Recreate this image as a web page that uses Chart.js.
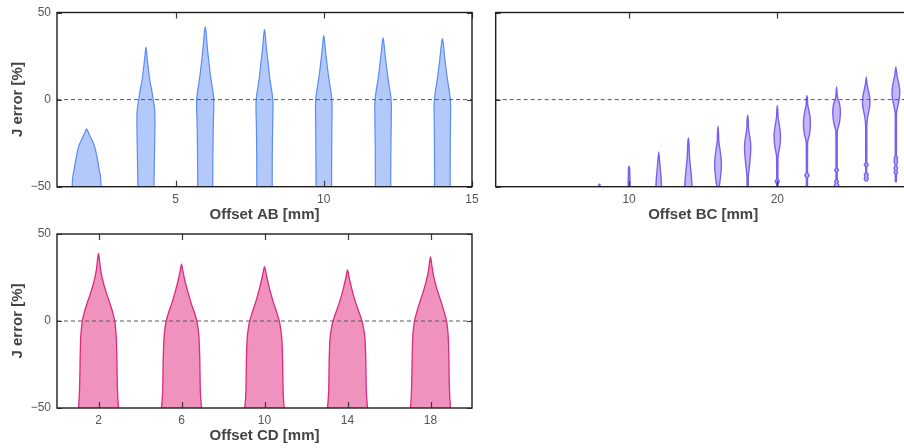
<!DOCTYPE html>
<html><head><meta charset="utf-8">
<script src="https://cdn.jsdelivr.net/npm/chart.js@4.4.1/dist/chart.umd.min.js"></script>
<style>
html,body{margin:0;padding:0;background:#fff;}
#wrap{position:relative;width:904px;height:448px;overflow:hidden;background:#fff;}
canvas{position:absolute;}
</style></head><body>
<div id="wrap">
<canvas id="cAB" width="480" height="224" style="left:0px;top:0px"></canvas>
<canvas id="cBC" width="440" height="224" style="left:480px;top:0px"></canvas>
<canvas id="cCD" width="480" height="224" style="left:0px;top:224px"></canvas>
</div>
<script>
// ---------- data ----------
const yRange = [-50, 50];
const yTicks = [-50, 0, 50];

// Offset AB
const abRange = [1, 15];
const abTicks = [5, 10, 15];
const abPositions = [2, 4, 6, 8, 10, 12, 14];
const abLevels = [
  [-50,-45,-40,-35,-30,-27,-24,-21,-19,-16.8],
  [-50,-40,-30,-20,-10,-5,0,5,10,15,20,25,30.2],
  [-50,-40,-30,-20,-10,-5,0,5,10,15,20,25,30,35,39,41.8],
  [-50,-40,-30,-20,-10,-5,0,5,10,15,20,25,30,35,38,40.2],
  [-50,-40,-30,-20,-10,-5,0,5,10,15,20,25,30,34,36.8],
  [-50,-40,-30,-20,-10,-5,0,5,10,15,20,25,30,33,35.4],
  [-50,-40,-30,-20,-10,-5,0,5,10,15,20,25,30,33,35]
];
const abWidths = [
  [0.489,0.472,0.422,0.371,0.314,0.270,0.202,0.115,0.061,0],
  [0.270,0.280,0.290,0.300,0.304,0.290,0.243,0.200,0.142,0.100,0.066,0.034,0],
  [0.253,0.256,0.260,0.267,0.280,0.290,0.290,0.256,0.209,0.169,0.135,0.101,0.071,0.047,0.027,0],
  [0.260,0.260,0.263,0.270,0.280,0.287,0.280,0.243,0.196,0.159,0.128,0.094,0.061,0.037,0.020,0],
  [0.263,0.263,0.267,0.270,0.277,0.280,0.270,0.236,0.189,0.148,0.111,0.078,0.047,0.024,0],
  [0.260,0.260,0.263,0.270,0.277,0.280,0.270,0.233,0.186,0.145,0.108,0.074,0.044,0.024,0],
  [0.263,0.263,0.267,0.270,0.277,0.280,0.270,0.233,0.186,0.145,0.108,0.074,0.044,0.024,0]
];

// Offset BC
const bcRange = [1, 29];
const bcTicks = [10, 20];
const bcPositions = [8, 10, 12, 14, 16, 18, 20, 22, 24, 26, 28];
const bcLevels = [
  [-50,-49,-48.5],
  [-50,-45,-40,-38.3],
  [-50,-45,-40,-35,-30],
  [-50,-45,-40,-35,-30,-25,-22],
  [-50,-45,-40,-37,-33,-28,-24,-20,-15.3],
  [-50,-44,-40,-35,-30,-27,-24,-20,-16,-12,-9],
  [-50,-48.5,-47,-45.5,-40,-32,-28,-24,-21,-18,-14,-10,-7,-3.3],
  [-50,-45,-43.5,-42,-35,-28,-24,-20,-16,-13,-10,-6,-3,0,2.3],
  [-50,-49,-48,-47,-46,-43,-41.5,-40.5,-39.5,-35,-25,-18,-15,-12,-8,-5,-2,0,3,7.3],
  [-47,-46,-45.4,-44.5,-43.8,-43,-42.2,-38.5,-37.4,-36.3,-30,-15,-10,-6,-3,0,3,6,9,13],
  [-47.5,-42.8,-41.8,-40.8,-40.2,-39.3,-38.4,-36.5,-35.5,-34.5,-33.5,-32.5,-20,-8,-5,-2,1,4,7,10,13,16,18.8]
];
const bcWidths = [
  [0.04,0.04,0],
  [0.065,0.055,0.04,0],
  [0.190,0.160,0.105,0.055,0],
  [0.250,0.210,0.155,0.095,0.060,0.040,0],
  [0.081,0.160,0.215,0.225,0.200,0.120,0.050,0.040,0],
  [0.040,0.045,0.095,0.155,0.200,0.210,0.185,0.115,0.050,0.040,0],
  [0.040,0.045,0.135,0.045,0.040,0.055,0.145,0.200,0.215,0.195,0.125,0.050,0.040,0],
  [0.040,0.040,0.148,0.040,0.040,0.040,0.055,0.170,0.225,0.232,0.210,0.125,0.050,0.040,0],
  [0.135,0.148,0.070,0.135,0.045,0.040,0.045,0.135,0.045,0.040,0.040,0.050,0.140,0.215,0.255,0.245,0.185,0.090,0.040,0],
  [0.035,0.101,0.135,0.100,0.090,0.135,0.045,0.040,0.135,0.040,0.040,0.040,0.095,0.190,0.245,0.245,0.200,0.120,0.050,0],
  [0.035,0.045,0.121,0.055,0.081,0.128,0.055,0.081,0.121,0.080,0.121,0.045,0.040,0.040,0.095,0.175,0.235,0.260,0.235,0.175,0.095,0.045,0]
];

// Offset CD
const cdRange = [0, 20];
const cdTicks = [2, 6, 10, 14, 18];
const cdPositions = [2, 6, 10, 14, 18];
const cdLevels = [
  [-50,-45,-40,-30,-20,-10,-5,0,5,10,15,20,25,30,35,38.9],
  [-50,-45,-40,-30,-20,-10,-5,0,5,10,15,20,25,29,32.7],
  [-50,-45,-40,-30,-20,-10,-5,0,5,10,15,20,25,29,31.3],
  [-50,-45,-40,-30,-20,-10,-5,0,5,10,15,20,25,29.3],
  [-50,-45,-40,-30,-20,-10,-5,0,5,10,15,20,25,30,34,36.9]
];
const cdWidths = [
  [0.964,0.935,0.916,0.896,0.882,0.858,0.829,0.781,0.684,0.554,0.410,0.280,0.173,0.096,0.048,0],
  [0.964,0.930,0.906,0.892,0.877,0.843,0.805,0.737,0.617,0.472,0.347,0.231,0.130,0.063,0],
  [0.949,0.916,0.896,0.882,0.867,0.834,0.786,0.713,0.588,0.448,0.323,0.212,0.116,0.048,0],
  [0.964,0.930,0.906,0.892,0.877,0.843,0.786,0.699,0.554,0.410,0.280,0.173,0.077,0],
  [0.964,0.935,0.916,0.896,0.882,0.858,0.829,0.771,0.665,0.540,0.400,0.270,0.164,0.087,0.043,0]
];

// ---------- helpers ----------
const FONT = '"Liberation Sans", Arial, Helvetica, sans-serif';
const fmt = v => String(v).replace('-', '\u2212');

function violinPoints(center, levels, widths) {
  const left = levels.map((y, k) => ({x: center - widths[k], y}));
  const right = levels.map((y, k) => ({x: center + widths[k], y})).reverse();
  if (widths[widths.length - 1] === 0) right.shift();
  return left.concat(right);
}

const framePlugin = {
  id: 'frame',
  afterDatasetsDraw(chart) {
    const {ctx, chartArea: a, scales} = chart;
    const x = scales.x, y = scales.y;
    ctx.save();
    ctx.strokeStyle = '#3a3a3a';
    ctx.lineWidth = 1.2;
    ctx.beginPath();
    x.ticks.forEach(t => {
      const px = Math.round(x.getPixelForValue(t.value)) + 0.5;
      ctx.moveTo(px, a.bottom); ctx.lineTo(px, a.bottom - 6);
      ctx.moveTo(px, a.top); ctx.lineTo(px, a.top + 6);
    });
    y.ticks.forEach(t => {
      const py = Math.round(y.getPixelForValue(t.value)) + 0.5;
      ctx.moveTo(a.left, py); ctx.lineTo(a.left + 5, py);
      ctx.moveTo(a.right, py); ctx.lineTo(a.right - 5, py);
    });
    ctx.stroke();
    ctx.strokeStyle = '#1e1e1e';
    ctx.lineWidth = 1.4;
    ctx.strokeRect(a.left, a.top, a.right - a.left, a.bottom - a.top);
    ctx.restore();
  }
};

function makeChart(id, cfg) {
  const datasets = [{
    data: [{x: cfg.range[0], y: 0}, {x: cfg.range[1], y: 0}],
    showLine: true, fill: false, borderColor: '#5a5a5a', borderWidth: 1,
    borderDash: [4, 3], pointRadius: 0, order: 0
  }];
  cfg.positions.forEach((c, i) => {
    datasets.push({
      data: violinPoints(c, cfg.levels[i], cfg.widths[i]),
      showLine: true, fill: 'shape', tension: cfg.tension,
      borderColor: cfg.edge, backgroundColor: cfg.face, borderWidth: cfg.lw,
      pointRadius: 0, order: 1
    });
  });
  return new Chart(document.getElementById(id), {
    type: 'scatter',
    data: {datasets},
    plugins: [framePlugin],
    options: {
      responsive: false, animation: false,
      layout: {padding: cfg.padding},
      plugins: {legend: {display: false}, tooltip: {enabled: false}},
      scales: {
        x: {
          type: 'linear', min: cfg.range[0], max: cfg.range[1],
          afterBuildTicks: s => { s.ticks = cfg.ticks.map(v => ({value: v})); },
          afterFit: s => { s.height = cfg.xH; s.paddingLeft = 0; s.paddingRight = 0; },
          grid: {display: false, drawTicks: false}, border: {display: false},
          ticks: {font: {family: FONT, size: 12}, color: '#555', padding: cfg.xPad, maxRotation: 0, callback: v => fmt(v)},
          title: {display: true, text: cfg.xTitle, color: '#444', font: {family: FONT, size: 15, weight: 'bold'}, padding: {top: 0, bottom: cfg.xTitlePad}}
        },
        y: {
          type: 'linear', min: yRange[0], max: yRange[1],
          afterBuildTicks: s => { s.ticks = yTicks.map(v => ({value: v})); },
          afterFit: s => { s.width = cfg.yW; s.paddingTop = 0; s.paddingBottom = 0; },
          grid: {display: false, drawTicks: false}, border: {display: false},
          ticks: {display: cfg.yLabels, font: {family: FONT, size: 12}, color: '#555', padding: 6, callback: v => fmt(v)},
          title: {display: cfg.yLabels, text: 'J error [%]', color: '#444', font: {family: FONT, size: 15, weight: 'bold'}, padding: {top: 8.5, bottom: 0}}
        }
      }
    }
  });
}

makeChart('cAB', {
  range: abRange, ticks: abTicks, positions: abPositions, levels: abLevels, widths: abWidths,
  edge: '#5b8cf5', face: 'rgba(91,140,245,0.47)', lw: 1.2, tension: 0.3,
  padding: {left: 0, top: 12.5, right: 8, bottom: 0}, xH: 37.3, yW: 57, xPad: 6, xTitlePad: 0,
  xTitle: 'Offset AB [mm]', yLabels: true
});
makeChart('cBC', {
  range: bcRange, ticks: bcTicks, positions: bcPositions, levels: bcLevels, widths: bcWidths,
  edge: '#7a5ff0', face: 'rgba(122,95,240,0.45)', lw: 1.4, tension: 0.15,
  padding: {left: 0, top: 12.5, right: 9.3, bottom: 0}, xH: 37.3, yW: 15.7, xPad: 6, xTitlePad: 0,
  xTitle: 'Offset BC [mm]', yLabels: false
});
makeChart('cCD', {
  range: cdRange, ticks: cdTicks, positions: cdPositions, levels: cdLevels, widths: cdWidths,
  edge: '#e0287d', face: 'rgba(224,40,125,0.5)', lw: 1.3, tension: 0.3,
  padding: {left: 0, top: 10, right: 8, bottom: 0}, xH: 40, yW: 57, xPad: 5, xTitlePad: 3.5,
  xTitle: 'Offset CD [mm]', yLabels: true
});
</script>
</body></html>
